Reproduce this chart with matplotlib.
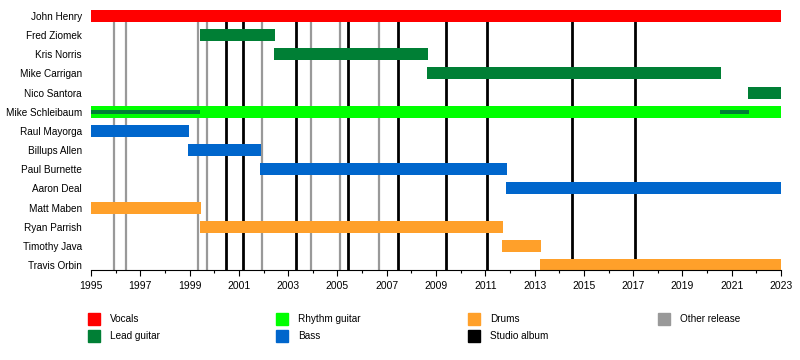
import matplotlib.pyplot as plt

plt.rcParams['font.family'] = ['Liberation Sans', 'DejaVu Sans']

members = ['John Henry', 'Fred Ziomek', 'Kris Norris', 'Mike Carrigan', 'Nico Santora',
           'Mike Schleibaum', 'Raul Mayorga', 'Billups Allen', 'Paul Burnette', 'Aaron Deal',
           'Matt Maben', 'Ryan Parrish', 'Timothy Java', 'Travis Orbin']

# (member, role, start, end)
spans = [
    ('John Henry', 'Vocals', 1995.0, 2023.0),
    ('Fred Ziomek', 'Lead guitar', 1999.42, 2002.47),
    ('Kris Norris', 'Lead guitar', 2002.43, 2008.66),
    ('Mike Carrigan', 'Lead guitar', 2008.64, 2020.57),
    ('Nico Santora', 'Lead guitar', 2021.66, 2023.0),
    ('Mike Schleibaum', 'Rhythm guitar', 1995.0, 2023.0),
    ('Raul Mayorga', 'Bass', 1995.0, 1998.96),
    ('Billups Allen', 'Bass', 1998.94, 2001.9),
    ('Paul Burnette', 'Bass', 2001.86, 2011.87),
    ('Aaron Deal', 'Bass', 2011.84, 2023.0),
    ('Matt Maben', 'Drums', 1995.0, 1999.45),
    ('Ryan Parrish', 'Drums', 1999.42, 2011.7),
    ('Timothy Java', 'Drums', 2011.68, 2013.26),
    ('Travis Orbin', 'Drums', 2013.22, 2023.0),
]
# secondary (thin) roles
thin_spans = [
    ('Mike Schleibaum', 'Lead guitar', 1995.0, 1999.44),
    ('Mike Schleibaum', 'Lead guitar', 2020.53, 2021.69),
]

studio_albums = [2000.49, 2001.18, 2003.33, 2005.44, 2007.47, 2009.42, 2011.08, 2014.53, 2017.09]
other_releases = [1995.95, 1996.43, 1999.33, 1999.72, 2001.95, 2003.94, 2005.12, 2006.70]

colors = {
    'Vocals': '#ff0000',
    'Lead guitar': '#007f35',
    'Rhythm guitar': '#00ff00',
    'Bass': '#0066cc',
    'Drums': '#ffa02a',
    'Studio album': '#000000',
    'Other release': '#999999',
}

fig = plt.figure(figsize=(8, 3.6), dpi=100)
ax = fig.add_axes([91 / 800, 1 - 270 / 360, 690 / 800, 260 / 360])

for x in other_releases:
    ax.axvline(x, color=colors['Other release'], lw=1.6, zorder=1)
for x in studio_albums:
    ax.axvline(x, color=colors['Studio album'], lw=2.0, zorder=1)

row = {m: i for i, m in enumerate(members)}
for m, role, s, e in spans:
    ax.barh(row[m], e - s, left=s, height=0.627, color=colors[role], zorder=2)
for m, role, s, e in thin_spans:
    ax.barh(row[m], e - s, left=s, height=0.2, color=colors[role], zorder=3)

ax.set_xlim(1995, 2023)
ax.set_ylim(13.26, -0.313)
ax.set_yticks(range(len(members)))
ax.set_yticklabels(members, fontsize=7.2)
ax.tick_params(axis='y', length=0, pad=6.5)
ax.set_xticks(range(1995, 2024, 2))
ax.set_xticks(range(1995, 2024), minor=True)
ax.tick_params(axis='x', which='major', length=4, width=0.8, labelsize=7.5, pad=4)
ax.tick_params(axis='x', which='minor', length=2.5, width=0.8)
for side in ['top', 'right', 'left']:
    ax.spines[side].set_visible(False)
ax.spines['bottom'].set_linewidth(0.8)

legend_cols = [['Vocals', 'Lead guitar'], ['Rhythm guitar', 'Bass'], ['Drums', 'Studio album'], ['Other release']]
col_x = [88, 276, 468, 658]
for cx, names in zip(col_x, legend_cols):
    for j, name in enumerate(names):
        y_top = 313 + j * 17
        fig.patches.append(plt.Rectangle((cx / 800, 1 - (y_top + 12) / 360), 12 / 800, 12 / 360,
                                         transform=fig.transFigure, color=colors[name]))
        fig.text((cx + 22) / 800, 1 - (y_top + 6) / 360, name, fontsize=7.2, va='center', ha='left')

fig.savefig('out.png', dpi=100)
